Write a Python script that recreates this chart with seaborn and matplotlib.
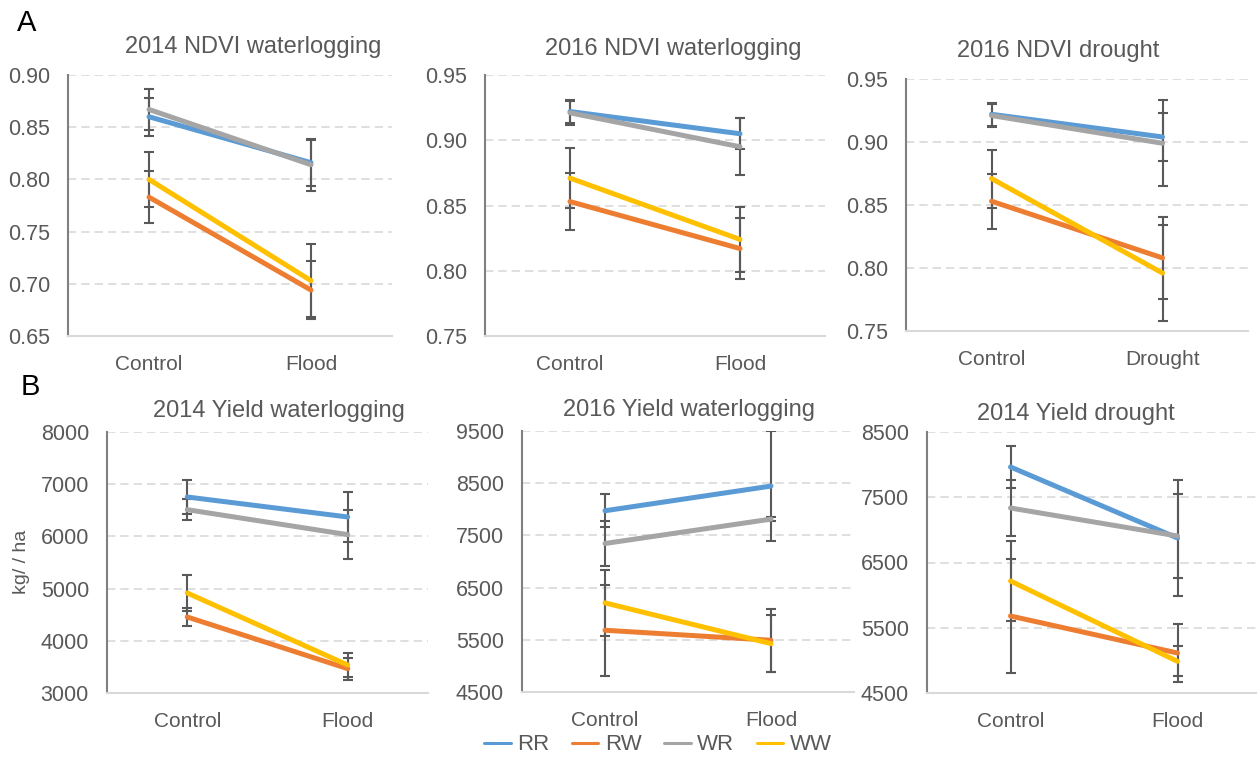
import numpy as np
import pandas as pd
import matplotlib
matplotlib.use("Agg")
import matplotlib.pyplot as plt
from matplotlib.lines import Line2D
import seaborn as sns

sns.set_theme(style="white")
plt.rcParams["font.family"] = ["Liberation Sans", "DejaVu Sans"]

genotypes = ["RR", "RW", "WR", "WW"]
colors = ["#5B9BD5", "#ED7D31", "#A5A5A5", "#FFC000"]
flood_levels = ["Control", "Flood"]
drought_levels = ["Control", "Drought"]

# means per genotype (rows: RR, RW, WR, WW; columns: control, stress) and error bar half-widths
ndvi14_wl_mean = [[0.860, 0.816], [0.783, 0.694], [0.867, 0.814], [0.800, 0.703]]
ndvi14_wl_err = [[0.018, 0.022], [0.025, 0.028], [0.020, 0.025], [0.026, 0.035]]

ndvi16_wl_mean = [[0.922, 0.905], [0.853, 0.817], [0.921, 0.895], [0.871, 0.824]]
ndvi16_wl_err = [[0.009, 0.012], [0.022, 0.0235], [0.009, 0.022], [0.023, 0.025]]

ndvi16_dr_mean = [[0.922, 0.904], [0.853, 0.808], [0.921, 0.899], [0.871, 0.796]]
ndvi16_dr_err = [[0.009, 0.019], [0.022, 0.0325], [0.009, 0.034], [0.023, 0.038]]

yield14_wl_mean = [[6755, 6372], [4456, 3466], [6512, 6033], [4916, 3536]]
yield14_wl_err = [[320, 470], [180, 210], [205, 470], [350, 230]]

yield16_wl_mean = [[7972, 8445], [5683, 5491], [7345, 7812], [6207, 5427]]
yield16_wl_err = [[320, 1055], [870, 600], [430, 45], [630, 550]]

yield14_dr_mean = [[7964, 6875], [5680, 5113], [7335, 6906], [6216, 4985]]
yield14_dr_err = [[316, 890], [870, 440], [430, 650], [620, 230]]

ndvi14_ticks = [0.65, 0.70, 0.75, 0.80, 0.85, 0.90]
ndvi16_ticks = [0.75, 0.80, 0.85, 0.90, 0.95]
yield14_wl_ticks = [3000, 4000, 5000, 6000, 7000, 8000]
yield16_wl_ticks = [4500, 5500, 6500, 7500, 8500, 9500]
yield14_dr_ticks = [4500, 5500, 6500, 7500, 8500]

titles = ["2014 NDVI waterlogging", "2016 NDVI waterlogging", "2016 NDVI drought",
          "2014 Yield waterlogging", "2016 Yield waterlogging", "2014 Yield drought"]

TEXT = "#595959"

panels = [
    (flood_levels, ndvi14_wl_mean, ndvi14_wl_err, ndvi14_ticks, "{:.2f}"),
    (flood_levels, ndvi16_wl_mean, ndvi16_wl_err, ndvi16_ticks, "{:.2f}"),
    (drought_levels, ndvi16_dr_mean, ndvi16_dr_err, ndvi16_ticks, "{:.2f}"),
    (flood_levels, yield14_wl_mean, yield14_wl_err, yield14_wl_ticks, "{:.0f}"),
    (flood_levels, yield16_wl_mean, yield16_wl_err, yield16_wl_ticks, "{:.0f}"),
    (flood_levels, yield14_dr_mean, yield14_dr_err, yield14_dr_ticks, "{:.0f}"),
]

# axes rectangles in figure fractions
W, H = 1257, 759
boxes_px = [
    (68, 75, 392, 336),
    (485, 75, 825, 336),
    (906, 79, 1248, 331),
    (107, 432, 428, 693),
    (522, 431, 854, 692),
    (927, 432, 1261, 693),
]
title_px = [(253, 47), (673, 49), (1058, 51), (279, 411), (689, 410), (1076, 414)]

fig = plt.figure(figsize=(W / 100, H / 100), dpi=100)


def draw_panel(ax, levels, means, errs, ticks, fmt):
    df = pd.DataFrame({
        "Treatment": levels * len(genotypes),
        "Genotype": np.repeat(genotypes, len(levels)),
        "Value": np.ravel(means),
    })
    sns.lineplot(data=df, x="Treatment", y="Value", hue="Genotype",
                 hue_order=genotypes, palette=colors, linewidth=3.6,
                 sort=False, legend=False, ax=ax, zorder=3,
                 solid_capstyle="round")
    for m, e in zip(means, errs):
        ax.errorbar(levels, m, yerr=e, fmt="none", ecolor=TEXT,
                    elinewidth=1.5, capsize=3.8, capthick=1.5, zorder=2)
    ax.set_xlim(-0.5, 1.5)
    ax.set_ylim(ticks[0], ticks[-1])
    ax.set_yticks(ticks)
    ax.set_yticklabels([fmt.format(t) for t in ticks])
    ax.set_xlabel("")
    ax.set_ylabel("")
    ax.grid(axis="y", color="#D9D9D9", linestyle=(0, (5, 3)), linewidth=1.2)
    ax.grid(axis="x", visible=False)
    ax.set_axisbelow(True)
    for side in ("top", "right"):
        ax.spines[side].set_visible(False)
    ax.spines["left"].set_color("#808080")
    ax.spines["left"].set_linewidth(1.5)
    ax.spines["bottom"].set_color("#D9D9D9")
    ax.spines["bottom"].set_linewidth(1.5)
    ax.tick_params(axis="y", length=0, labelsize=15.5, labelcolor=TEXT, pad=13)
    ax.tick_params(axis="x", length=0, labelsize=15, labelcolor=TEXT, pad=14)


for (levels, means, errs, ticks, fmt), (x0, y0, x1, y1), title, (tx, ty) in zip(
        panels, boxes_px, titles, title_px):
    ax = fig.add_axes([x0 / W, 1 - y1 / H, (x1 - x0) / W, (y1 - y0) / H])
    draw_panel(ax, levels, means, errs, ticks, fmt)
    ax.patch.set_alpha(0)
    fig.text(tx / W, 1 - ty / H, title, ha="center", va="center",
             fontsize=17, color=TEXT)

fig.text(27 / W, 1 - 23 / H, "A", ha="center", va="center", fontsize=21, color="black")
fig.text(30 / W, 1 - 387 / H, "B", ha="center", va="center", fontsize=21, color="black")
fig.text(21 / W, 1 - 562 / H, "kg/ / ha", ha="center", va="center",
         rotation=90, fontsize=14, color=TEXT)

handles = [Line2D([0], [0], color=c, lw=2.2) for c in colors]
fig.legend(handles, genotypes, loc="center", bbox_to_anchor=(658 / W, 1 - 745 / H),
           ncol=4, frameon=False, fontsize=16, handlelength=1.2,
           handletextpad=0.3, columnspacing=1.0, labelcolor=TEXT)

fig.savefig("out.png", dpi=100, facecolor="white")
